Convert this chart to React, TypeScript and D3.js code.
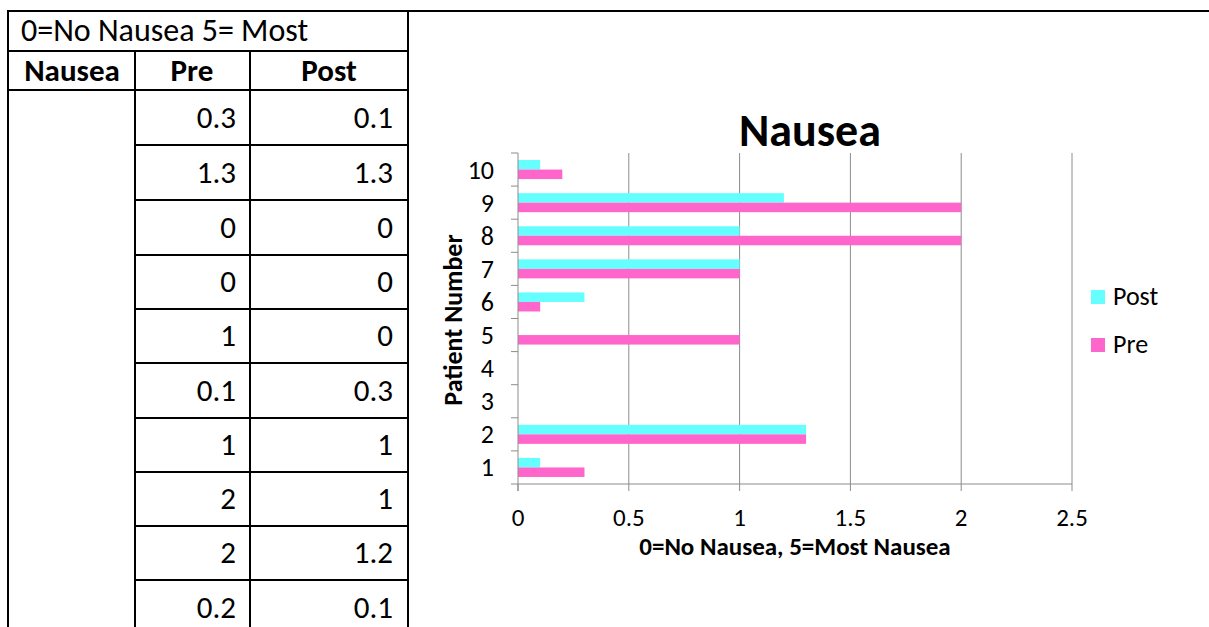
import React from "react";
import * as d3 from "d3";

const patients = ["1", "2", "3", "4", "5", "6", "7", "8", "9", "10"];
const preValues = [0.3, 1.3, 0, 0, 1, 0.1, 1, 2, 2, 0.2];
const postValues = [0.1, 1.3, 0, 0, 0, 0.3, 1, 1, 1.2, 0.1];
const xTicks = [0, 0.5, 1, 1.5, 2, 2.5];
const seriesNames = ["Post", "Pre"];
const seriesColors = ["#66FFFF", "#FF66CC"];

const FONT = "Carlito, Lato, 'Open Sans', sans-serif";

export default function App() {
  const W = 1209, H = 627;
  const x = d3.scaleLinear().domain([0, 2.5]).range([518, 1072]);
  const y = d3
    .scaleBand<string>()
    .domain([...patients].reverse())
    .range([153, 484])
    .paddingInner(0.425)
    .paddingOuter(0.2125);
  const sub = d3.scaleBand<string>().domain(seriesNames).range([0, y.bandwidth()]);
  const step = y.step();

  // table geometry
  const colX = [8, 135, 250, 408];
  const rowYs = [90, 145, 200, 255, 309, 363, 418, 472, 526, 580, 635];
  const lineW = 2;

  return (
    <div style={{ position: "absolute", left: 0, top: 0 }}>
      <svg width={W} height={H} style={{ display: "block", background: "#fff" }}>
        {/* table */}
        <g stroke="#000" strokeWidth={lineW}>
          <line x1={colX[0]} x2={W} y1={11} y2={11} />
          <line x1={colX[0]} x2={colX[3]} y1={51} y2={51} />
          <line x1={colX[0]} x2={colX[3]} y1={90} y2={90} />
          <line x1={colX[0]} x2={colX[0]} y1={10} y2={H} />
          <line x1={colX[1]} x2={colX[1]} y1={51} y2={H} />
          <line x1={colX[2]} x2={colX[2]} y1={51} y2={H} />
          <line x1={colX[3]} x2={colX[3]} y1={10} y2={H} />
          {rowYs.slice(1).map((ry, i) => (
            <line key={i} x1={colX[1]} x2={colX[3]} y1={ry} y2={ry} />
          ))}
        </g>
        <text x={21} y={41} fontFamily={FONT} fontSize={32} fill="#000">
          0=No Nausea 5= Most
        </text>
        <g fontFamily={FONT} fontSize={31} fontWeight="bold" textAnchor="middle">
          <text x={72} y={81}>Nausea</text>
          <text x={192} y={81}>Pre</text>
          <text x={329} y={81}>Post</text>
        </g>
        <g fontFamily={FONT} fontSize={31} textAnchor="end">
          {preValues.map((v, i) => {
            const cy = (rowYs[i] + rowYs[i + 1]) / 2 + 10;
            return (
              <g key={i}>
                <text x={236} y={cy}>{String(v)}</text>
                <text x={393} y={cy}>{String(postValues[i])}</text>
              </g>
            );
          })}
        </g>

        {/* chart */}
        <text x={810} y={146} fontFamily={FONT} fontSize={46} fontWeight="bold" textAnchor="middle">
          Nausea
        </text>
        {/* gridlines */}
        <g stroke="#8c8c8c" strokeWidth={1}>
          {xTicks.slice(1).map((t) => (
            <line key={t} x1={x(t)} x2={x(t)} y1={153} y2={484} />
          ))}
        </g>
        {/* bars */}
        {patients.map((p, i) => {
          const vals = [postValues[i], preValues[i]];
          return (
            <g key={p}>
              {seriesNames.map((s, j) =>
                vals[j] > 0 ? (
                  <rect
                    key={s}
                    x={x(0)}
                    y={(y(p) as number) + (sub(s) as number)}
                    width={x(vals[j]) - x(0)}
                    height={sub.bandwidth()}
                    fill={seriesColors[j]}
                  />
                ) : null
              )}
            </g>
          );
        })}
        {/* axes */}
        <g stroke="#8c8c8c" strokeWidth={1}>
          <line x1={x(0)} x2={x(0)} y1={153} y2={491} />
          <line x1={511} x2={x(2.5)} y1={484} y2={484} />
          {patients.map((_, i) => (
            <line key={i} x1={511} x2={x(0)} y1={153 + i * step} y2={153 + i * step} />
          ))}
          {xTicks.map((t) => (
            <line key={t} x1={x(t)} x2={x(t)} y1={484} y2={491} />
          ))}
        </g>
        <g fontFamily={FONT} fontSize={26} textAnchor="end">
          {patients.map((p) => (
            <text key={p} x={494} y={(y(p) as number) + y.bandwidth() / 2 + 9}>
              {p}
            </text>
          ))}
        </g>
        <g fontFamily={FONT} fontSize={25} textAnchor="middle">
          {xTicks.map((t) => (
            <text key={t} x={x(t)} y={526}>
              {String(t)}
            </text>
          ))}
        </g>
        <text x={795} y={555} fontFamily={FONT} fontSize={25} fontWeight="bold" textAnchor="middle">
          0=No Nausea, 5=Most Nausea
        </text>
        <text
          transform="translate(462,320) rotate(-90)"
          fontFamily={FONT}
          fontSize={26}
          fontWeight="bold"
          textAnchor="middle"
        >
          Patient Number
        </text>
        {/* legend */}
        {seriesNames.map((s, j) => (
          <g key={s} transform={`translate(1091,${290 + j * 48})`}>
            <rect width={14} height={14} fill={seriesColors[j]} />
            <text x={22} y={15} fontFamily={FONT} fontSize={26}>
              {s}
            </text>
          </g>
        ))}
      </svg>
    </div>
  );
}
